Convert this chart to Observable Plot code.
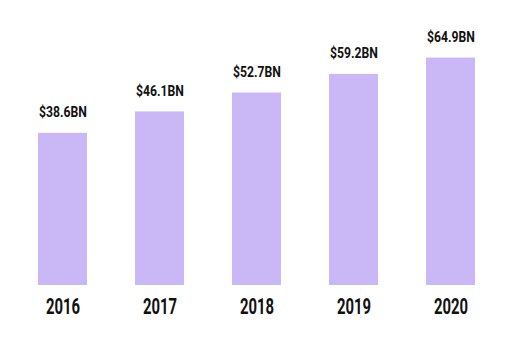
<!DOCTYPE html>
<html>
<head>
<meta charset="utf-8">
<script src="https://cdn.jsdelivr.net/npm/d3@7"></script>
<script src="https://cdn.jsdelivr.net/npm/@observablehq/plot@0.6"></script>
<style>
  html, body { margin: 0; padding: 0; background: #ffffff; }
  #chart { width: 508px; height: 357px; }
</style>
</head>
<body>
<div id="chart"></div>
<script>
const years = ["2016", "2017", "2018", "2019", "2020"];
const values = [38.6, 46.1, 52.7, 59.2, 64.9];
const valueLabels = ["$38.6BN", "$46.1BN", "$52.7BN", "$59.2BN", "$64.9BN"];
const yBase = -14.6;
const yTop = 70;

const data = years.map((year, i) => ({ year, value: values[i], label: valueLabels[i] }));

const chart = Plot.plot({
  width: 508,
  height: 357,
  marginLeft: 37,
  marginRight: 32,
  marginTop: 43,
  marginBottom: 72,
  style: { fontFamily: "Roboto, sans-serif", fontWeight: "bold", color: "#111111", background: "#ffffff" },
  x: { domain: years, paddingInner: 0.5, paddingOuter: 0, axis: null },
  y: { domain: [yBase, yTop], axis: null },
  marks: [
    Plot.barY(data, { x: "year", y1: yBase, y2: "value", fill: "#cab8f6" }),
    Plot.text(data, { x: "year", y: "value", text: "label", dy: -16, lineAnchor: "bottom", fontSize: 14.5, fontWeight: "bold", fill: "#111111" }),
    Plot.axisX({ tickSize: 0, tickPadding: 13, fontSize: 22.5, fontWeight: "bold", fill: "#111111", label: null })
  ]
});

function squeeze(sel, s) {
  sel.each(function () {
    const t = d3.select(this);
    const x = +(t.attr("x") || 0);
    const prev = t.attr("transform") || "";
    t.attr("transform", `${prev} translate(${x},0) scale(${s},1) translate(${-x},0)`.trim());
  });
}
squeeze(d3.select(chart).selectAll("g[aria-label='x-axis tick label'] text"), 0.66);
squeeze(d3.select(chart).selectAll("g[aria-label='text'] text"), 0.84);

document.getElementById("chart").appendChild(chart);
</script>
</body>
</html>
